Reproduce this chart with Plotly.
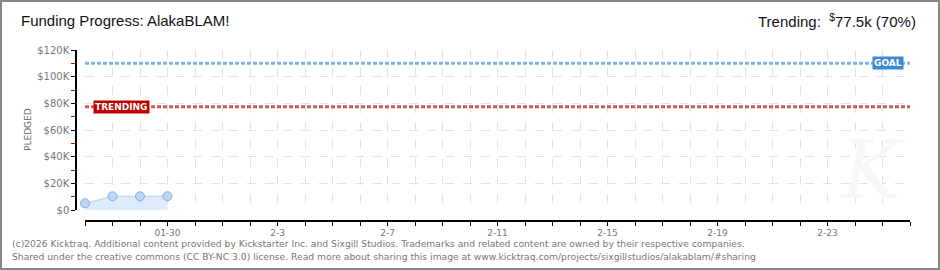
import plotly.graph_objects as go

# ---- data ----
dates = ["2026-01-27", "2026-01-28", "2026-01-29", "2026-01-30"]
pledged = [5000, 10300, 10300, 10350]
goal = 110000
trending = 77500
x_start = "2026-01-27"
x_end = "2026-02-26"
x_label_vals = ["2026-01-30", "2026-02-03", "2026-02-07", "2026-02-11",
                "2026-02-15", "2026-02-19", "2026-02-23"]
x_label_text = ["01-30", "2-3", "2-7", "2-11", "2-15", "2-19", "2-23"]
y_ticks = [0, 20000, 40000, 60000, 80000, 100000, 120000]
y_ticktext = ["$0", "$20K", "$40K", "$60K", "$80K", "$100K", "$120K"]
y_minor = [10000, 30000, 50000, 70000, 90000, 110000]

# ---- layout geometry (pixels) ----
W, H = 940, 270
ML, MR, MT, MB = 60, 30, 40, 40
PW, PH = W - ML - MR, H - MT - MB


def px(xp):
    return (xp - ML) / PW


def py(yp):
    return (H - MB - yp) / PH


FONT = "Liberation Sans, Arial, sans-serif"
SMALL = "DejaVu Sans, Verdana, sans-serif"
DAY_MS = 86400000

fig = go.Figure()

# goal and trending lines
fig.add_trace(go.Scatter(x=[x_start, x_end], y=[goal, goal], mode="lines",
                         line=dict(color="#7fb3ea", width=3, dash="4px,2px"),
                         hoverinfo="skip", showlegend=False))
fig.add_trace(go.Scatter(x=[x_start, x_end], y=[trending, trending], mode="lines",
                         line=dict(color="#cc5d5d", width=3, dash="4px,2px"),
                         hoverinfo="skip", showlegend=False))

# area under the pledged series
fig.add_trace(go.Scatter(x=dates, y=pledged, mode="lines",
                         line=dict(color="#b5d3f2", width=1.2),
                         fill="tozeroy", fillcolor="rgba(200,222,248,0.6)",
                         hoverinfo="skip", showlegend=False))
# pledged markers
fig.add_trace(go.Scatter(x=dates, y=pledged, mode="markers",
                         cliponaxis=False,
                         marker=dict(size=9, color="#bcd7f6",
                                     line=dict(color="#86acdc", width=1)),
                         showlegend=False))

fig.update_layout(
    width=W, height=H,
    margin=dict(l=ML, r=MR, t=MT, b=MB),
    paper_bgcolor="white", plot_bgcolor="white",
    showlegend=False,
    xaxis=dict(
        type="date",
        domain=[px(85), 1],
        range=[x_start, x_end],
        anchor="free", position=py(220.5),
        tickmode="array", tickvals=x_label_vals, ticktext=x_label_text,
        ticks="outside", ticklen=4, tickcolor="#000", tickwidth=1,
        minor=dict(tick0=x_start, dtick=DAY_MS, ticks="outside", ticklen=4,
                   tickcolor="#000", tickwidth=1, showgrid=True,
                   gridcolor="#e2e2e2", griddash="dash", gridwidth=1),
        showline=True, linecolor="#000", linewidth=2,
        showgrid=True, gridcolor="#e2e2e2", griddash="dash", gridwidth=1,
        tickfont=dict(family=SMALL, size=9, color="#777"),
        zeroline=False,
    ),
    yaxis=dict(
        domain=[py(210), py(50)],
        range=[0, 120000],
        anchor="free", position=px(76),
        tickmode="array", tickvals=y_ticks, ticktext=y_ticktext,
        ticks="outside", ticklen=4, tickcolor="#000", tickwidth=1,
        minor=dict(tickmode="array", tickvals=y_minor, ticks="outside",
                   ticklen=4, tickcolor="#e00000", showgrid=False),
        showline=True, linecolor="#000", linewidth=1.5,
        showgrid=True, gridcolor="#e2e2e2", griddash="dash", gridwidth=1,
        tickfont=dict(family=SMALL, size=10, color="#777"),
        zeroline=False,
    ),
    annotations=[
        dict(xref="paper", yref="paper", x=px(872), y=py(170), xanchor="center",
             yanchor="middle", showarrow=False, text="<i>K</i>",
             font=dict(family="DejaVu Serif, serif", size=80, color="#f7f7f7")),
        dict(xref="paper", yref="paper", x=px(19), y=py(21), xanchor="left",
             yanchor="middle", showarrow=False,
             text="Funding Progress: AlakaBLAM!",
             font=dict(family=FONT, size=15, color="#111")),
        dict(xref="paper", yref="paper", x=px(918), y=py(21), xanchor="right",
             yanchor="middle", showarrow=False,
             text="Trending:  <sup>$</sup>77.5k (70%)",
             font=dict(family=FONT, size=15, color="#111")),
        dict(xref="paper", yref="paper", x=px(28), y=py(130), xanchor="center",
             yanchor="middle", showarrow=False, textangle=-90,
             text="PLEDGED",
             font=dict(family=SMALL, size=9, color="#666")),
        dict(x="2026-02-25 05:00", y=goal, xanchor="center", yanchor="middle",
             showarrow=False, text="<b>GOAL</b>", bgcolor="#3e88d8",
             borderpad=1, font=dict(family=SMALL, size=9, color="white")),
        dict(x="2026-01-28 07:30", y=trending, xanchor="center", yanchor="middle",
             showarrow=False, text="<b>TRENDING</b>", bgcolor="#bb0000",
             borderpad=1, font=dict(family=SMALL, size=9, color="white")),
        dict(xref="paper", yref="paper", x=px(10), y=py(243), xanchor="left",
             yanchor="middle", showarrow=False,
             text="(c)2026 Kicktraq. Additional content provided by Kickstarter Inc. and Sixgill Studios. Trademarks and related content are owned by their respective companies.",
             font=dict(family=SMALL, size=9.2, color="#777")),
        dict(xref="paper", yref="paper", x=px(10), y=py(256), xanchor="left",
             yanchor="middle", showarrow=False,
             text="Shared under the creative commons (CC BY-NC 3.0) license. Read more about sharing this image at www.kicktraq.com/projects/sixgillstudios/alakablam/#sharing",
             font=dict(family=SMALL, size=9.2, color="#777")),
    ],
    shapes=[
        dict(type="rect", xref="paper", yref="paper",
             x0=px(1), x1=px(W - 1), y0=py(H - 1), y1=py(1),
             line=dict(color="#888", width=2), fillcolor="rgba(0,0,0,0)"),
    ],
)

fig.write_html("out.html")
